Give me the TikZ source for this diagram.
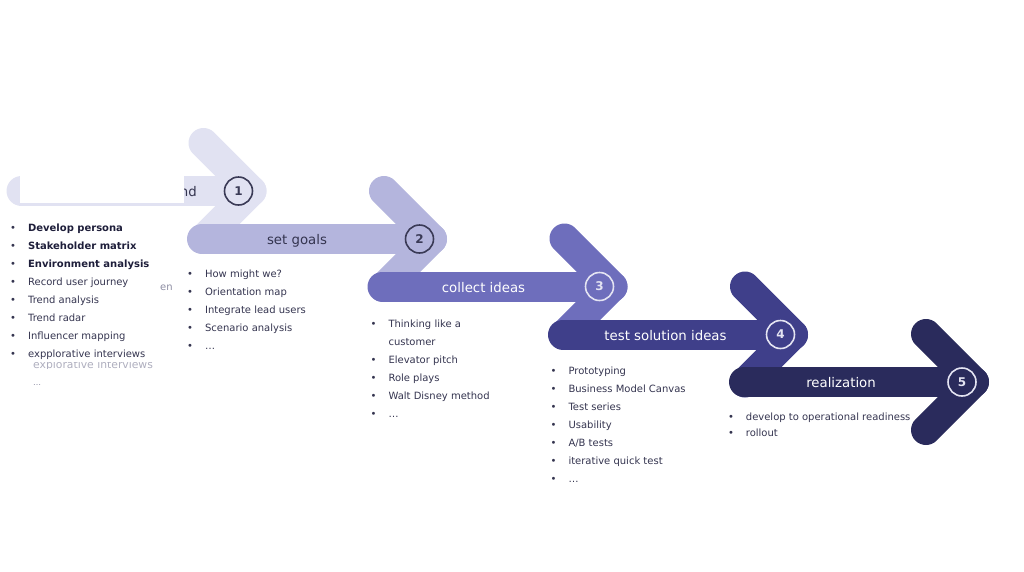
\documentclass[tikz,border=0pt]{standalone}
\usepackage{fontspec}
\setmainfont{DejaVu Sans}
\definecolor{stageA}{HTML}{E1E2F2}
\definecolor{stageB}{HTML}{B4B5DD}
\definecolor{stageC}{HTML}{6E6EBC}
\definecolor{stageD}{HTML}{3F3F8A}
\definecolor{stageE}{HTML}{2A2B5C}
\definecolor{listtext}{HTML}{34344F}
\definecolor{listbold}{HTML}{1E1E3A}
\definecolor{numdark}{HTML}{3A3A56}
\definecolor{numlight}{HTML}{E4E4F2}
\definecolor{fadedtext}{HTML}{8C8CA2}
\tikzset{
  chevron/.style={line width=30pt, line cap=round, line join=round},
  bar/.style={line width=30pt, line cap=round},
  stagelabel/.style={anchor=base, inner sep=0pt, font=\fontsize{13.3}{16}\selectfont},
  stagenum/.style={circle, draw, line width=1.6pt, minimum size=28pt, inner sep=0pt,
    font=\fontsize{12}{14}\selectfont\bfseries},
  itemlist/.style={anchor=base west, inner sep=0pt, text=listtext,
    font=\fontsize{10}{18}\selectfont},
  faded/.style={anchor=base west, inner sep=0pt, text=fadedtext,
    font=\fontsize{10}{12}\selectfont},
}
\begin{document}
\begin{tikzpicture}[x=1pt,y=-1pt]
  \useasboundingbox (0,0) rectangle (1024,571);
  \coordinate (tip1) at (251.5,191);
  \coordinate (tip2) at (432,239);
  \coordinate (tip3) at (612.5,286.5);
  \coordinate (tip4) at (793,334.5);
  \coordinate (tip5) at (974,382);

  % stage 1
  \draw[chevron, stageA] (tip1) ++(-48,-48) -- (tip1) -- ++(-48,48);
  \draw[bar, stageA] (tip1) ++(-230,0) -- (tip1);
  \node[stagelabel, anchor=base east, text=listtext] (lbl1) at (197,196) {nd};
  \fill[white] (20,176) rectangle (184,202.5);
  \node[stagenum, draw=numdark, text=numdark] (num1) at ([xshift=-13pt]tip1) {1};
  \node[itemlist] (list1) at (10,231) {\begin{tabular}[t]{@{}l@{\hspace{12pt}}l@{}}
    • & \textcolor{listbold}{\bfseries Develop persona}\\
    • & \textcolor{listbold}{\bfseries Stakeholder matrix}\\
    • & \textcolor{listbold}{\bfseries Environment analysis}\\
    • & Record user journey\\
    • & Trend analysis\\
    • & Trend radar\\
    • & Influencer mapping\\
    • & expplorative interviews
  \end{tabular}};
  \begin{scope}
    \clip (28,362.5) rectangle (170,368.5);
    \node[faded, font=\fontsize{10.8}{13}\selectfont, text=fadedtext!70] (ghost) at (33,368.5) {explorative interviews};
  \end{scope}
  \node[faded, font=\fontsize{8}{10}\selectfont] (more1) at (33,385) {…};
  \node[faded] (frag) at (160,290) {en};

  % stage 2
  \draw[chevron, stageB] (tip2) ++(-48,-48) -- (tip2) -- ++(-48,48);
  \draw[bar, stageB] (tip2) ++(-230,0) -- (tip2);
  \node[stagelabel, text=listtext] (lbl2) at (297,244.5) {set goals};
  \node[stagenum, draw=numdark, text=numdark] (num2) at ([xshift=-12.5pt]tip2) {2};
  \node[itemlist] (list2) at (187,277) {\begin{tabular}[t]{@{}l@{\hspace{12pt}}l@{}}
    • & How might we?\\
    • & Orientation map\\
    • & Integrate lead users\\
    • & Scenario analysis\\
    • & …
  \end{tabular}};

  % stage 3
  \draw[chevron, stageC] (tip3) ++(-48,-48) -- (tip3) -- ++(-48,48);
  \draw[bar, stageC] (tip3) ++(-230,0) -- (tip3);
  \node[stagelabel, text=white] (lbl3) at (483.5,292) {collect ideas};
  \node[stagenum, draw=numlight, text=numlight] (num3) at ([xshift=-13pt]tip3) {3};
  \node[itemlist] (list3) at (370.4,327.3) {\begin{tabular}[t]{@{}l@{\hspace{12pt}}l@{}}
    • & Thinking like a\\
      & customer\\
    • & Elevator pitch\\
    • & Role plays\\
    • & Walt Disney method\\
    • & …
  \end{tabular}};

  % stage 4
  \draw[chevron, stageD] (tip4) ++(-48,-48) -- (tip4) -- ++(-48,48);
  \draw[bar, stageD] (tip4) ++(-230,0) -- (tip4);
  \node[stagelabel, text=white] (lbl4) at (665.5,340) {test solution ideas};
  \node[stagenum, draw=numlight, text=numlight] (num4) at ([xshift=-12.5pt]tip4) {4};
  \node[itemlist] (list4) at (550.4,374.3) {\begin{tabular}[t]{@{}l@{\hspace{12pt}}l@{}}
    • & Prototyping\\
    • & Business Model Canvas\\
    • & Test series\\
    • & Usability\\
    • & A/B tests\\
    • & iterative quick test\\
    • & …
  \end{tabular}};

  % stage 5
  \draw[chevron, stageE] (tip5) ++(-48,-48) -- (tip5) -- ++(-48,48);
  \draw[bar, stageE] (tip5) ++(-230,0) -- (tip5);
  \node[stagelabel, text=white] (lbl5) at (841,387.5) {realization};
  \node[stagenum, draw=numlight, text=numlight] (num5) at ([xshift=-12pt]tip5) {5};
  \node[itemlist, font=\fontsize{10}{16}\selectfont] (list5) at (727.8,420) {\begin{tabular}[t]{@{}l@{\hspace{12pt}}l@{}}
    • & develop to operational readiness\\
    • & rollout
  \end{tabular}};
\end{tikzpicture}
\end{document}
